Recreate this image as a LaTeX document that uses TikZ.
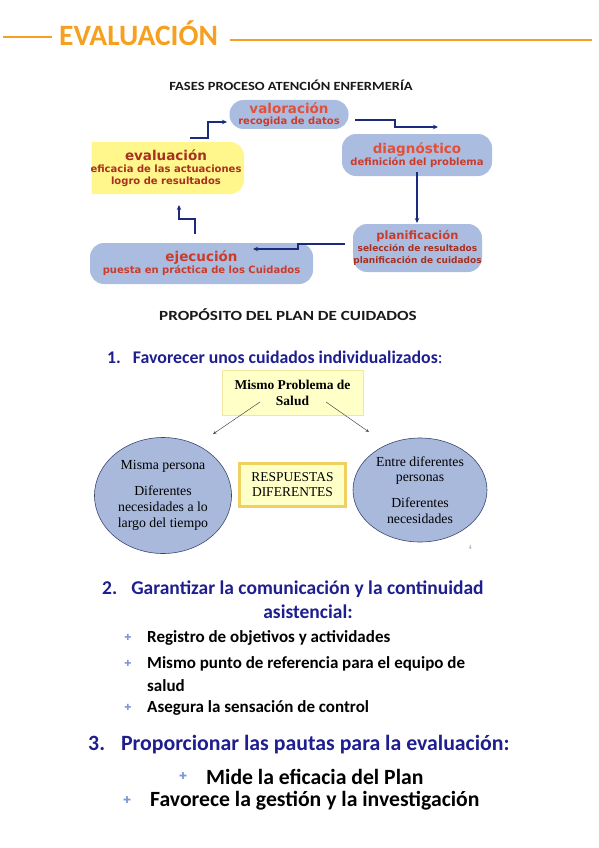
\documentclass[tikz,border=0pt]{standalone}
\usepackage{fontspec}
\usepackage{graphicx}
\setmainfont{Liberation Serif}
\newfontfamily\calfnt{Carlito}
\newfontfamily\verdfnt{DejaVu Sans}
\usetikzlibrary{arrows.meta,shapes.geometric}
\definecolor{orangeH}{HTML}{F5A020}
\definecolor{pillblue}{HTML}{AABDE0}
\definecolor{pillyel}{HTML}{FFF68C}
\definecolor{redT}{HTML}{E0503A}
\definecolor{redS}{HTML}{CC3A2A}
\definecolor{redD}{HTML}{A83020}
\definecolor{navy}{HTML}{1C2A7C}
\definecolor{headblue}{HTML}{1E1E8E}
\definecolor{ellblue}{HTML}{A9B9DC}
\definecolor{ellline}{HTML}{3A4670}
\definecolor{boxyel}{HTML}{FFFFC8}
\definecolor{boxline}{HTML}{F2E6A0}
\definecolor{respline}{HTML}{F0D060}
\definecolor{bulletblue}{HTML}{7E98D8}
\tikzset{
  pill/.style={fill=#1, rounded corners=14pt, inner sep=0pt, align=center, font=\verdfnt\bfseries},
  flow/.style={draw=navy, line width=1.4pt, -{Stealth[length=5pt,width=4.5pt]}},
  thin arrow/.style={draw=black!70, line width=0.5pt, -{Stealth[length=3.5pt,width=3pt]}},
  ell/.style={ellipse, fill=ellblue, draw=ellline, line width=0.6pt, inner sep=0pt, align=center, font=\fontsize{13.8}{15.8}\selectfont},
  bluehead/.style={text=headblue, anchor=base west, inner sep=0pt},
  btext/.style={font=\calfnt\bfseries\fontsize{17}{19}\selectfont, anchor=west, inner sep=0pt},
  bigtext/.style={font=\calfnt\bfseries\fontsize{21.7}{24}\selectfont, anchor=west, inner sep=0pt},
  bul/.style={text=bulletblue, font=\verdfnt\fontsize{8.5}{8.5}\selectfont, inner sep=0pt},
}
\begin{document}
\begin{tikzpicture}[x=1pt,y=-1pt]
\useasboundingbox (0,0) rectangle (599,848);
% header
\node[text=orangeH, font=\calfnt\bfseries\fontsize{29.5}{29.5}\selectfont, anchor=base west, inner sep=0pt] (title) at (59,45.5) {EVALUACIÓN};
\coordinate (hl1) at (3,37);
\coordinate (hl1e) at (52,37);
\coordinate (hl2) at (230,40);
\coordinate (hr) at (592,40);
\draw[orangeH, line width=1.6pt] (hl1) -- (hl1e);
\draw[orangeH, line width=1.6pt] (hl2) -- (hr);

\node[font=\calfnt\bfseries\fontsize{12.5}{13}\selectfont, text=black!90, inner sep=0pt] (fases) at (291,85) {\scalebox{1.16}[1]{FASES PROCESO ATENCIÓN ENFERMERÍA}};

% pills
\node[pill=pillblue, minimum width=119pt, minimum height=29pt] (val) at (289,114.5)
  {\fontsize{13.5}{13}\selectfont\color{redT}valoración\\[-1pt]\fontsize{10}{11}\selectfont\color{redS}recogida de datos};
\node[pill=pillblue, minimum width=150pt, minimum height=42pt] (diag) at (417,155)
  {\fontsize{13.5}{15}\selectfont\color{redT}diagnóstico\\\fontsize{10}{12}\selectfont\color{redS}definición del problema};
\node[pill=pillblue, minimum width=129pt, minimum height=48pt] (plan) at (417.5,248)
  {\fontsize{11.5}{13}\selectfont\color{redS}planificación\\\fontsize{9}{11}\selectfont\color{redD}selección de resultados\\\fontsize{9}{11}\selectfont\color{redD}planificación de cuidados};
\node[pill=pillblue, minimum width=223pt, minimum height=41pt] (ejec) at (201.5,263.5)
  {\fontsize{13.5}{15}\selectfont\color{redS}ejecución\\\fontsize{10}{12}\selectfont\color{redS}puesta en práctica de los Cuidados};
\begin{scope}
\clip (91.5,0) rectangle (599,848);
\node[pill=pillyel, minimum width=166pt, minimum height=52pt] (eval) at (161,168) {};
\node[font=\verdfnt\bfseries, text=redD, align=center, inner sep=0pt] (evaltxt) at (166,168)
  {\fontsize{13.5}{15}\selectfont evaluación\\\fontsize{10}{12}\selectfont eficacia de las actuaciones\\\fontsize{10}{12}\selectfont logro de resultados};
\end{scope}

% flow arrows
\coordinate (a1s) at (190,138); \coordinate (a1m) at (208,122); \coordinate (a1e) at (227,122);
\draw[flow] (a1s) -| (a1m) -- (a1e);
\coordinate (a2s) at (355,120); \coordinate (a2m) at (395,127); \coordinate (a2e) at (438,127);
\draw[flow] (a2s) -| (a2m) -- (a2e);
\coordinate (a3s) at (417,172); \coordinate (a3e) at (417,223);
\draw[flow] (a3s) -- (a3e);
\coordinate (a4s) at (345,244); \coordinate (a4m) at (298,249); \coordinate (a4e) at (253,249);
\draw[flow] (a4s) -| (a4m) -- (a4e);
\coordinate (a5s) at (195,234); \coordinate (a5m) at (179,219); \coordinate (a5e) at (179,205);
\draw[flow] (a5s) |- (a5m) -- (a5e);

% section heading
\node[font=\calfnt\bfseries\fontsize{14}{14}\selectfont, text=black!90, inner sep=0pt] (prop) at (288,315) {\scalebox{1.22}[1]{PROPÓSITO DEL PLAN DE CUIDADOS}};

\node[bluehead, font=\calfnt\bfseries\fontsize{17.8}{19}\selectfont] (h1) at (107,363) {1.\hspace{12pt}Favorecer unos cuidados individualizados{\mdseries:}};

% Mismo problema box
\node[fill=boxyel, draw=boxline, line width=0.6pt, minimum width=141pt, minimum height=45pt, align=center, inner sep=0pt, font=\bfseries\fontsize{13.5}{16}\selectfont] (mismo) at (292.5,392.5) {Mismo Problema de\\Salud};

\node[ell, minimum width=137pt, minimum height=116pt] (left) at (163,495.5)
  {Misma persona\\[10pt]Diferentes\\necesidades a lo\\largo del tiempo};
\node[ell, minimum width=134pt, minimum height=104pt] (right) at (420,490)
  {Entre diferentes\\personas\\[10pt]Diferentes\\necesidades};

\coordinate (l1) at (260,402); \coordinate (l2) at (213,434);
\draw[thin arrow] (l1) -- (l2);
\coordinate (r1) at (326,402); \coordinate (r2) at (369,432);
\draw[thin arrow] (r1) -- (r2);

\node[fill=boxyel, draw=respline, line width=2.5pt, minimum width=106pt, minimum height=43pt, align=center, inner sep=0pt, font=\fontsize{13.5}{15}\selectfont] (resp) at (292.5,485) {RESPUESTAS\\DIFERENTES};

\node[text=black!45, font=\fontsize{6}{6}\selectfont, inner sep=0pt] (pg) at (470,548) {4};

% section 2
\node[bluehead, font=\calfnt\bfseries\fontsize{19.5}{21}\selectfont] (h2) at (102,594.5) {2.\hspace{14pt}Garantizar la comunicación y la continuidad};
\node[text=headblue, font=\calfnt\bfseries\fontsize{19.5}{21}\selectfont, inner sep=0pt, anchor=base] (h2b) at (308,618.5) {asistencial:};

\node[bul] (b1) at (128,637) {✚};
\node[btext] (t1) at (147,638) {Registro de objetivos y actividades};
\node[bul] (b2) at (128,663) {✚};
\node[btext] (t2) at (147,664) {Mismo punto de referencia para el equipo de};
\node[btext] (t2b) at (147,686) {salud};
\node[bul] (b3) at (128,707) {✚};
\node[btext] (t3) at (147,708) {Asegura la sensación de control};

% section 3
\node[bluehead, font=\calfnt\bfseries\fontsize{21.8}{23}\selectfont] (h3) at (88,750.5) {3.\hspace{16pt}Proporcionar las pautas para la evaluación:};
\node[bul, font=\verdfnt\fontsize{9.5}{9.5}\selectfont] (b4) at (183,776) {✚};
\node[bigtext] (t4) at (206,777) {Mide la eficacia del Plan};
\node[bul, font=\verdfnt\fontsize{9.5}{9.5}\selectfont] (b5) at (127,800) {✚};
\node[bigtext] (t5) at (150,801) {Favorece la gestión y la investigación};
\end{tikzpicture}
\end{document}
